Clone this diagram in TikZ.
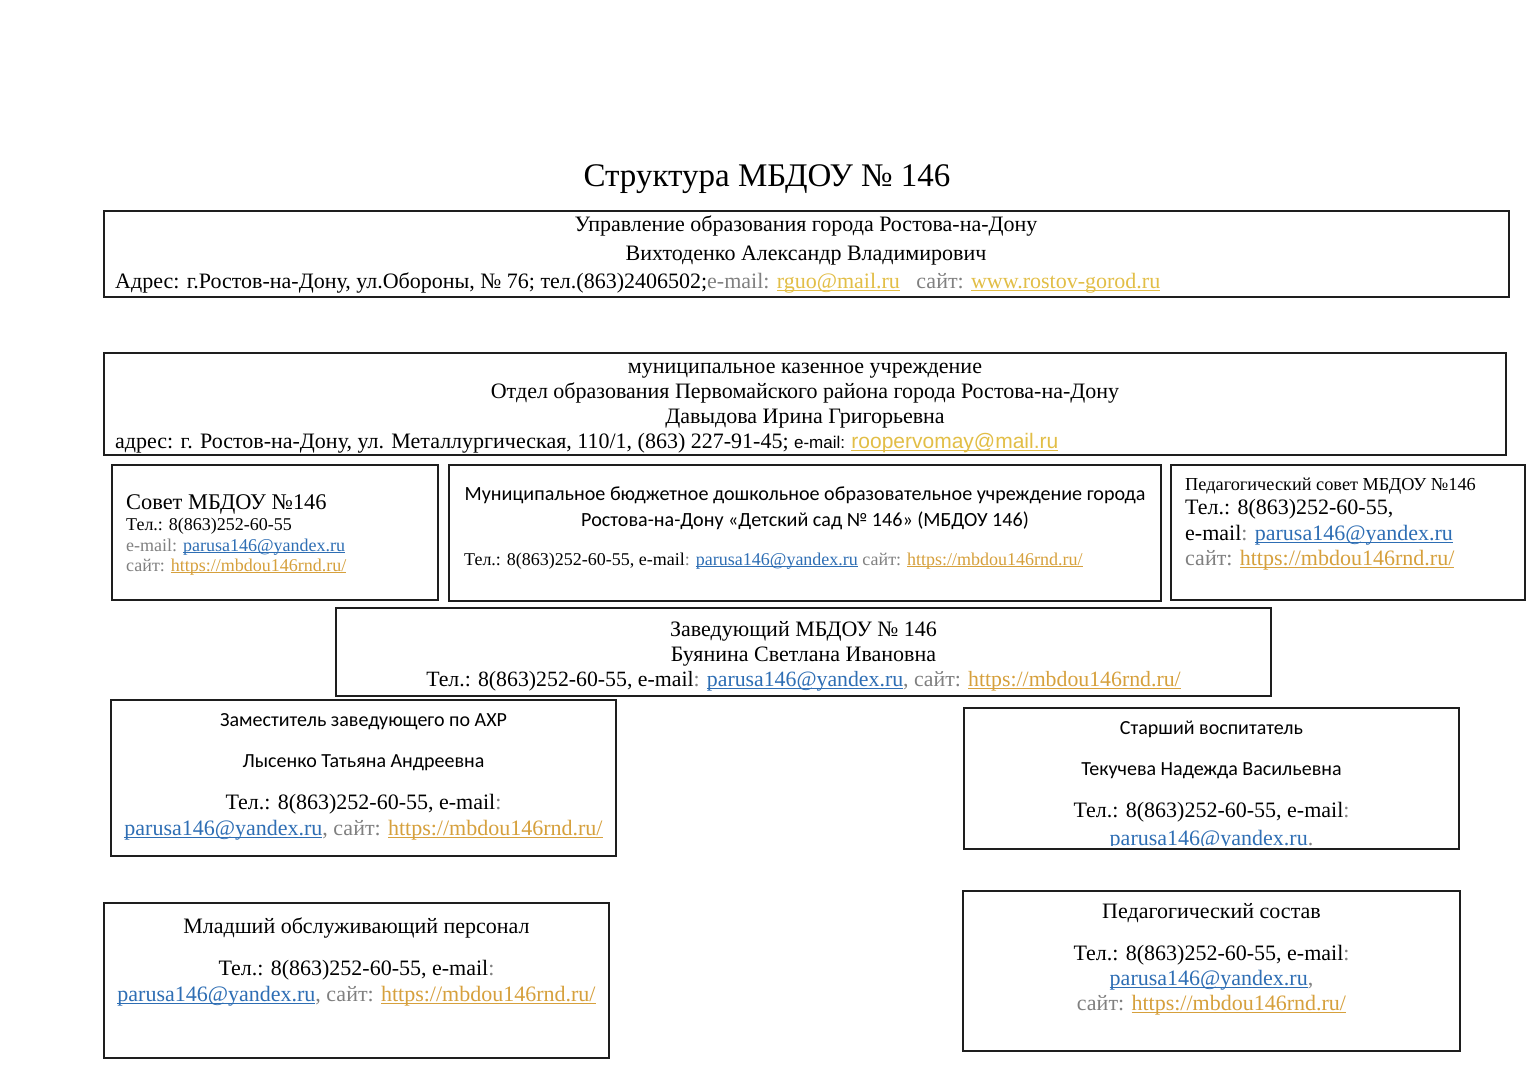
\documentclass[tikz,border=0pt]{standalone}
\usepackage{fontspec}
\setmainfont{Liberation Serif}
\newfontfamily\calfont{Carlito}
\newfontfamily\arialfont{Liberation Sans}
\definecolor{lblgray}{RGB}{128,128,128}
\definecolor{lnkblue}{RGB}{46,110,180}
\definecolor{webgold}{RGB}{214,160,60}
\definecolor{webyel}{RGB}{226,190,70}
\definecolor{boxline}{RGB}{30,30,30}
\newsavebox\ulbox
\newcommand\myul[1]{\sbox\ulbox{#1}\rlap{\rule[-0.13em]{\wd\ulbox}{0.05em}}\usebox\ulbox}
\newcommand\gl[1]{{\color{lblgray}#1}}
\newcommand\bl[1]{{\color{lnkblue}\myul{#1}}}
\newcommand\yl[1]{{\color{webgold}\myul{#1}}}
\newcommand\yy[1]{{\color{webyel}\myul{#1}}}
\newcommand\fs[1]{\fontsize{#1}{#1}\selectfont}
\begin{document}
\begin{tikzpicture}[x=1pt,y=-1pt,
  box/.style={draw=boxline,line width=1.6pt,anchor=north west,inner sep=0pt,outer sep=0pt},
  txt/.style={inner sep=0pt,anchor=base},
  txtl/.style={inner sep=0pt,anchor=base west}]
\useasboundingbox (0,0) rectangle (1536,1086);
\fill[white] (0,0) rectangle (1536,1086);
% title
\node[txt] (title) at (767,186) {\fs{33}Структура МБДОУ № 146};
% box A
\node[box,minimum width=1405pt,minimum height=86pt] (bA) at (104,211) {};
\node[txt] (a1) at (806,232) {\fs{22}Управление образования города Ростова-на-Дону};
\node[txt] (a2) at (806,260) {\fs{22}Вихтоденко Александр Владимирович};
\node[txtl] (a3) at (115,288) {\fs{22}Адрес: г.Ростов-на-Дону, ул.Обороны, № 76; тел.(863)2406502;\gl{e-mail: }\yy{rguo@mail.ru}\ \ \ \gl{сайт: }\yy{www.rostov-gorod.ru}};
% box B
\node[box,minimum width=1402pt,minimum height=102pt] (bB) at (104,353) {};
\node[txt] (b1) at (805,373) {\fs{22}муниципальное казенное учреждение};
\node[txt] (b2) at (805,398) {\fs{22}Отдел образования Первомайского района города Ростова-на-Дону};
\node[txt] (b3) at (805,423) {\fs{22}Давыдова Ирина Григорьевна};
\node[txtl] (b4) at (115,448) {\fs{22}адрес: г. Ростов-на-Дону, ул. Металлургическая, 110/1, (863) 227-91-45; {\arialfont\fs{17}e-mail: }{\arialfont\fs{21}\yy{roopervomay@mail.ru}}};
% box C
\node[box,minimum width=326pt,minimum height=135pt] (bC) at (112,465) {};
\node[txtl] (c1) at (126,509) {\fs{22.4}Совет МБДОУ №146};
\node[txtl] (c2) at (126,530) {\fs{18}Тел.: 8(863)252-60-55};
\node[txtl] (c3) at (126,551) {\fs{18}\gl{e-mail: }\bl{parusa146@yandex.ru}};
\node[txtl] (c4) at (126,571) {\fs{18}\gl{сайт: }\yl{https://mbdou146rnd.ru/}};
% box D
\node[box,minimum width=712pt,minimum height=136pt] (bD) at (449,465) {};
\node[txt] (d1) at (805,500) {\calfont\fs{20.1}Муниципальное бюджетное дошкольное образовательное учреждение города};
\node[txt] (d2) at (805,526) {\calfont\fs{20.1}Ростова-на-Дону «Детский сад № 146» (МБДОУ 146)};
\node[txtl] (d3) at (464,565) {\fs{18}Тел.: 8(863)252-60-55, e-mail\gl{: }\bl{parusa146@yandex.ru}\ \gl{сайт: }\yl{https://mbdou146rnd.ru/}};
% box E
\node[box,minimum width=354pt,minimum height=135pt] (bE) at (1171,465) {};
\node[txtl] (e1) at (1185,490) {\fs{18.3}Педагогический совет МБДОУ №146};
\node[txtl] (e2) at (1185,514) {\fs{22}Тел.: 8(863)252-60-55,};
\node[txtl] (e3) at (1185,540) {\fs{22}e-mail\gl{: }\bl{parusa146@yandex.ru}};
\node[txtl] (e4) at (1185,565) {\fs{22}\gl{сайт: }\yl{https://mbdou146rnd.ru/}};
% box F
\node[box,minimum width=935pt,minimum height=88pt] (bF) at (336,608) {};
\node[txt] (f1) at (803.5,636) {\fs{22}Заведующий МБДОУ № 146};
\node[txt] (f2) at (803.5,661) {\fs{22}Буянина Светлана Ивановна};
\node[txt] (f3) at (803.5,686) {\fs{21.8}Тел.: 8(863)252-60-55, e-mail\gl{: }\bl{parusa146@yandex.ru}\gl{, сайт: }\yl{https://mbdou146rnd.ru/}};
% box G
\node[box,minimum width=505pt,minimum height=156pt] (bG) at (111,700) {};
\node[txt] (g1) at (363.5,726) {\calfont\fs{20}Заместитель заведующего по АХР};
\node[txt] (g2) at (363.5,767) {\calfont\fs{20}Лысенко Татьяна Андреевна};
\node[txt] (g3) at (363.5,809) {\fs{22}Тел.: 8(863)252-60-55, e-mail\gl{:}};
\node[txt] (g4) at (363.5,835) {\fs{22}\bl{parusa146@yandex.ru}\gl{, сайт: }\yl{https://mbdou146rnd.ru/}};
% box H
\node[box,minimum width=495pt,minimum height=141pt] (bH) at (964,708) {};
\node[txt] (h1) at (1211.5,734) {\calfont\fs{20}Старший воспитатель};
\node[txt] (h2) at (1211.5,775) {\calfont\fs{20}Текучева Надежда Васильевна};
\node[txt] (h3) at (1211.5,817) {\fs{22}Тел.: 8(863)252-60-55, e-mail\gl{:}};
\begin{scope}
\clip (964,826) rectangle (1459,845.5);
\node[txt] (h4) at (1211.5,845.5) {\fs{22}\bl{parusa146@yandex.ru}\gl{.}};
\end{scope}
% box I
\node[box,minimum width=505pt,minimum height=155pt] (bI) at (104,903) {};
\node[txt] (i1) at (356.5,933) {\fs{22}Младший обслуживающий персонал};
\node[txt] (i2) at (356.5,975) {\fs{22}Тел.: 8(863)252-60-55, e-mail\gl{:}};
\node[txt] (i3) at (356.5,1001) {\fs{22}\bl{parusa146@yandex.ru}\gl{, сайт: }\yl{https://mbdou146rnd.ru/}};
% box J
\node[box,minimum width=497pt,minimum height=160pt] (bJ) at (963,891) {};
\node[txt] (j1) at (1211.5,918) {\fs{22}Педагогический состав};
\node[txt] (j2) at (1211.5,960) {\fs{22}Тел.: 8(863)252-60-55, e-mail\gl{:}};
\node[txt] (j3) at (1211.5,985) {\fs{22}\bl{parusa146@yandex.ru}\gl{,}};
\node[txt] (j4) at (1211.5,1010) {\fs{22}\gl{сайт: }\yl{https://mbdou146rnd.ru/}};
\end{tikzpicture}
\end{document}
